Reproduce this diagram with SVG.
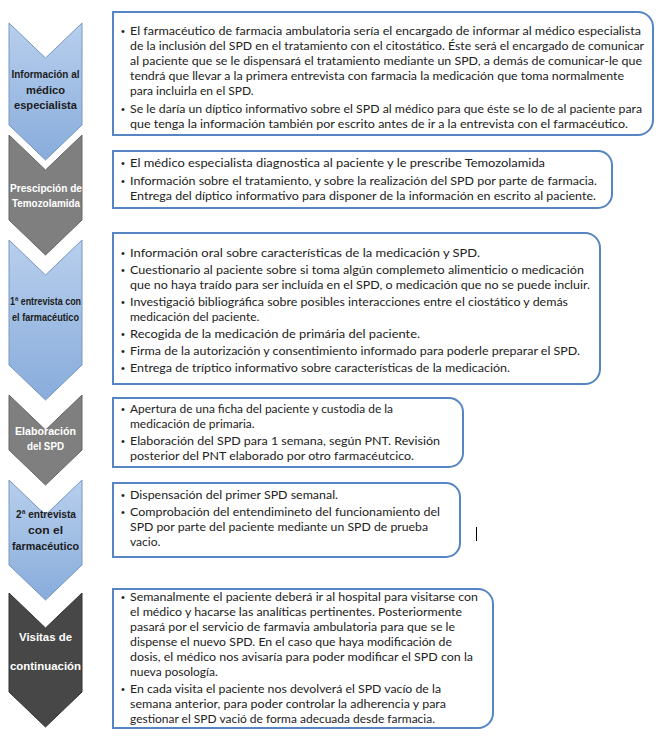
<svg xmlns="http://www.w3.org/2000/svg" width="663" height="736" viewBox="0 0 663 736">
<defs>
<linearGradient id="gBlue" x1="0" y1="0" x2="0" y2="1">
<stop offset="0" stop-color="#b8cfed"/>
<stop offset="1" stop-color="#88acdb"/>
</linearGradient>
<style>
.t{font-family:Lato,"Liberation Sans",sans-serif;font-size:12px;fill:#222}
.bu{font-family:"Liberation Sans",sans-serif;font-size:11px;fill:#222}
.lbl{font-family:"Liberation Sans",Arial,sans-serif;font-size:11.5px;font-weight:bold;text-anchor:middle}
.dk{fill:#1c1c1c}
.wh{fill:#ffffff}
.box{fill:#ffffff;stroke:#5585c3;stroke-width:2}
.cb{fill:url(#gBlue);stroke:#7896c2;stroke-width:1}
.cg{fill:#7f7f7f;stroke:#666666;stroke-width:1}
.cd{fill:#474747;stroke:#333333;stroke-width:1}
</style>
</defs>
<rect width="663" height="736" fill="#ffffff"/>

<g id="chevron-1">
<path class="cb" d="M9,23 L45.5,58 L82,23 L82,125 L45.5,160 L9,125 Z"/>
<text class="lbl dk" x="45.5" y="78" textLength="68" lengthAdjust="spacingAndGlyphs">Información al</text>
<text class="lbl dk" x="45.5" y="94" textLength="39" lengthAdjust="spacingAndGlyphs">médico</text>
<text class="lbl dk" x="45.5" y="109" textLength="63" lengthAdjust="spacingAndGlyphs">especialista</text>
</g>
<g id="chevron-2">
<path class="cg" d="M9,135 L45.5,170 L82,135 L82,220 L45.5,255 L9,220 Z"/>
<text class="lbl wh" x="46" y="192" textLength="72" lengthAdjust="spacingAndGlyphs">Prescipción de</text>
<text class="lbl wh" x="46" y="207" textLength="68" lengthAdjust="spacingAndGlyphs">Temozolamida</text>
</g>
<g id="chevron-3">
<path class="cb" d="M9,240 L45.5,275 L82,240 L82,365 L45.5,400 L9,365 Z"/>
<text class="lbl dk" x="45.5" y="305" textLength="71" lengthAdjust="spacingAndGlyphs">1ª entrevista con</text>
<text class="lbl dk" x="45.5" y="321" textLength="67" lengthAdjust="spacingAndGlyphs">el farmacéutico</text>
</g>
<g id="chevron-4">
<path class="cg" d="M9,395 L45.5,430 L82,395 L82,450 L45.5,485 L9,450 Z"/>
<text class="lbl wh" x="45.5" y="435" textLength="61" lengthAdjust="spacingAndGlyphs">Elaboración</text>
<text class="lbl wh" x="45.5" y="450" textLength="37" lengthAdjust="spacingAndGlyphs">del SPD</text>
</g>
<g id="chevron-5">
<path class="cb" d="M9,480 L45.5,515 L82,480 L82,565 L45.5,600 L9,565 Z"/>
<text class="lbl dk" x="46" y="518" textLength="60" lengthAdjust="spacingAndGlyphs">2ª entrevista</text>
<text class="lbl dk" x="45.5" y="534" textLength="35" lengthAdjust="spacingAndGlyphs">con el</text>
<text class="lbl dk" x="45.5" y="550" textLength="67" lengthAdjust="spacingAndGlyphs">farmacéutico</text>
</g>
<g id="chevron-6">
<path class="cd" d="M9,593 L45.5,628 L82,593 L82,692 L45.5,727 L9,692 Z"/>
<text class="lbl wh" x="45.5" y="641" textLength="53" lengthAdjust="spacingAndGlyphs">Visitas de</text>
<text class="lbl wh" x="45.5" y="670" textLength="71" lengthAdjust="spacingAndGlyphs">continuación</text>
</g>

<g id="box-1">
<path class="box" d="M113,12 H638 A15,15 0 0 1 653,27 V120 A15,15 0 0 1 638,135 H113 Z"/>
<text class="bu" x="121" y="35">•</text>
<text class="t" x="130" y="35" textLength="511" lengthAdjust="spacingAndGlyphs">El farmacéutico de farmacia ambulatoria sería el encargado de informar al médico especialista</text>
<text class="t" x="130" y="50" textLength="514" lengthAdjust="spacingAndGlyphs">de la inclusión del SPD en el tratamiento con el citostático. Éste será el encargado de comunicar</text>
<text class="t" x="130" y="65" textLength="512" lengthAdjust="spacingAndGlyphs">al paciente que se le dispensará el tratamiento mediante un SPD, a demás de comunicar-le que</text>
<text class="t" x="130" y="80" textLength="494" lengthAdjust="spacingAndGlyphs">tendrá que llevar a la primera entrevista con farmacia la medicación que toma normalmente</text>
<text class="t" x="130" y="95">para incluirla en el SPD.</text>
<text class="bu" x="121" y="113">•</text>
<text class="t" x="130" y="113" textLength="512" lengthAdjust="spacingAndGlyphs">Se le daría un díptico informativo sobre el SPD al médico para que éste se lo de al paciente para</text>
<text class="t" x="130" y="128" textLength="498" lengthAdjust="spacingAndGlyphs">que tenga la información también por escrito antes de ir a la entrevista con el farmacéutico.</text>
</g>

<g id="box-2">
<path class="box" d="M113,151 H598 A14,14 0 0 1 612,165 V194 A14,14 0 0 1 598,208 H113 Z"/>
<text class="bu" x="121" y="167">•</text>
<text class="t" x="130" y="167" textLength="415" lengthAdjust="spacingAndGlyphs">El médico especialista diagnostica al paciente y le prescribe Temozolamida</text>
<text class="bu" x="121" y="185">•</text>
<text class="t" x="130" y="185" textLength="467" lengthAdjust="spacingAndGlyphs">Información sobre el tratamiento, y sobre la realización del SPD por parte de farmacia.</text>
<text class="t" x="130" y="200" textLength="466" lengthAdjust="spacingAndGlyphs">Entrega del díptico informativo para disponer de la información en escrito al paciente.</text>
</g>

<g id="box-3">
<path class="box" d="M113,233 H585 A15,15 0 0 1 600,248 V369 A15,15 0 0 1 585,384 H113 Z"/>
<text class="bu" x="121" y="257">•</text>
<text class="t" x="130" y="257" textLength="350" lengthAdjust="spacingAndGlyphs">Información oral sobre características de la medicación y SPD.</text>
<text class="bu" x="121" y="274">•</text>
<text class="t" x="130" y="274" textLength="454" lengthAdjust="spacingAndGlyphs">Cuestionario al paciente sobre si toma algún complemeto alimenticio o medicación</text>
<text class="t" x="130" y="289" textLength="460" lengthAdjust="spacingAndGlyphs">que no haya traído para ser incluída en el SPD, o medicación que no se puede incluir.</text>
<text class="bu" x="121" y="306">•</text>
<text class="t" x="130" y="306" textLength="438" lengthAdjust="spacingAndGlyphs">Investigació bibliográfica sobre posibles interacciones entre el ciostático y demás</text>
<text class="t" x="130" y="321">medicación del paciente.</text>
<text class="bu" x="121" y="338">•</text>
<text class="t" x="130" y="338" textLength="290" lengthAdjust="spacingAndGlyphs">Recogida de la medicación de primária del paciente.</text>
<text class="bu" x="121" y="355">•</text>
<text class="t" x="130" y="355" textLength="450" lengthAdjust="spacingAndGlyphs">Firma de la autorización y consentimiento informado para poderle preparar el SPD.</text>
<text class="bu" x="121" y="372">•</text>
<text class="t" x="130" y="372" textLength="380" lengthAdjust="spacingAndGlyphs">Entrega de tríptico informativo sobre características de la medicación.</text>
</g>

<g id="box-4">
<path class="box" d="M113,398 H449 A14,14 0 0 1 463,412 V453 A14,14 0 0 1 449,467 H113 Z"/>
<text class="bu" x="121" y="413">•</text>
<text class="t" x="130" y="413" textLength="263" lengthAdjust="spacingAndGlyphs">Apertura de una ficha del paciente y custodia de la</text>
<text class="t" x="130" y="428">medicación de primaria.</text>
<text class="bu" x="121" y="445">•</text>
<text class="t" x="130" y="445" textLength="310" lengthAdjust="spacingAndGlyphs">Elaboración del SPD para 1 semana, según PNT. Revisión</text>
<text class="t" x="130" y="460" textLength="284" lengthAdjust="spacingAndGlyphs">posterior del PNT elaborado por otro farmacéutcico.</text>
</g>

<g id="box-5">
<path class="box" d="M113,483 H446 A14,14 0 0 1 460,497 V543 A14,14 0 0 1 446,557 H113 Z"/>
<text class="bu" x="121" y="499">•</text>
<text class="t" x="130" y="499" textLength="208" lengthAdjust="spacingAndGlyphs">Dispensación del primer SPD semanal.</text>
<text class="bu" x="121" y="516">•</text>
<text class="t" x="130" y="516" textLength="310" lengthAdjust="spacingAndGlyphs">Comprobación del entendimineto del funcionamiento del</text>
<text class="t" x="130" y="531" textLength="298" lengthAdjust="spacingAndGlyphs">SPD por parte del paciente mediante un SPD de prueba</text>
<text class="t" x="130" y="546">vacio.</text>
</g>

<g id="box-6">
<path class="box" d="M113,589 H478 A15,15 0 0 1 493,604 V713 A15,15 0 0 1 478,728 H113 Z"/>
<text class="bu" x="121" y="601">•</text>
<text class="t" x="130" y="601" textLength="348" lengthAdjust="spacingAndGlyphs">Semanalmente el paciente deberá ir al hospital para visitarse con</text>
<text class="t" x="130" y="616" textLength="332" lengthAdjust="spacingAndGlyphs">el médico y hacarse las analíticas pertinentes. Posteriormente</text>
<text class="t" x="130" y="631" textLength="325" lengthAdjust="spacingAndGlyphs">pasará por el servicio de farmavia ambulatoria para que se le</text>
<text class="t" x="130" y="646" textLength="322" lengthAdjust="spacingAndGlyphs">dispense el nuevo SPD. En el caso que haya modificación de</text>
<text class="t" x="130" y="661" textLength="343" lengthAdjust="spacingAndGlyphs">dosis, el médico nos avisaría para poder modificar el SPD con la</text>
<text class="t" x="130" y="676">nueva posología.</text>
<text class="bu" x="121" y="693">•</text>
<text class="t" x="130" y="693" textLength="311" lengthAdjust="spacingAndGlyphs">En cada visita el paciente nos devolverá el SPD vacío de la</text>
<text class="t" x="130" y="708" textLength="316" lengthAdjust="spacingAndGlyphs">semana anterior, para poder controlar la adherencia y para</text>
<text class="t" x="130" y="723" textLength="305" lengthAdjust="spacingAndGlyphs">gestionar el SPD vació de forma adecuada desde farmacia.</text>
</g>

<g id="connectors"></g>

<line x1="476.5" y1="527" x2="476.5" y2="541" stroke="#000000" stroke-width="1"/>
</svg>
